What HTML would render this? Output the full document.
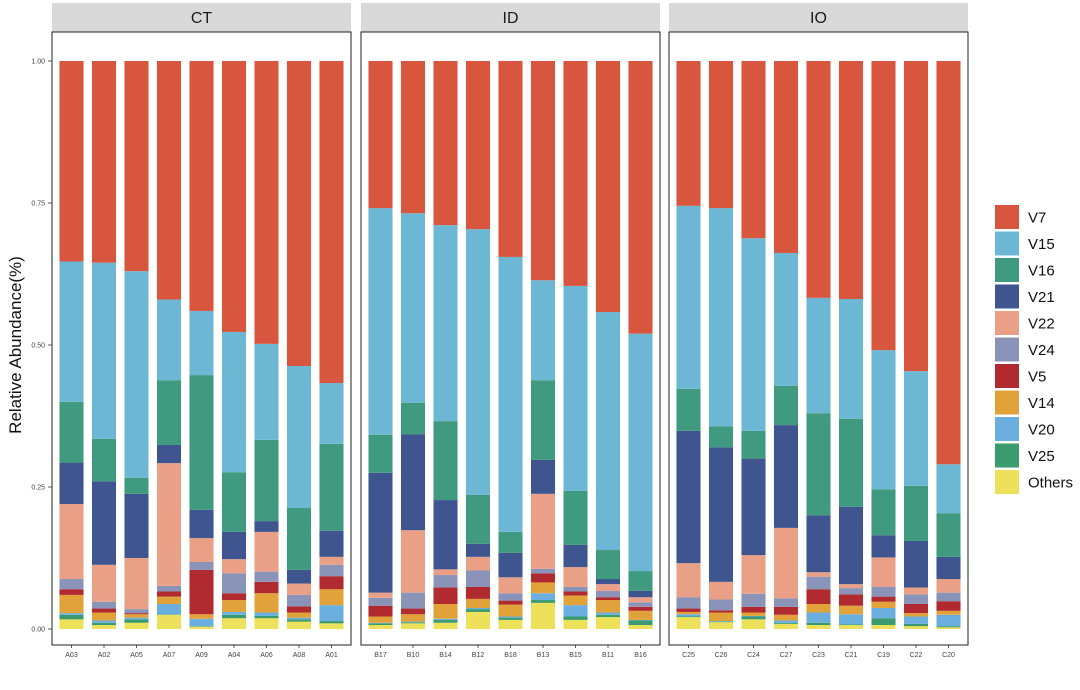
<!DOCTYPE html>
<html><head><meta charset="utf-8"><style>
body{margin:0;background:#fff;font-family:"Liberation Sans",sans-serif}
</style></head><body>
<svg id="chart" width="1080" height="685" xmlns="http://www.w3.org/2000/svg" font-family="Liberation Sans, sans-serif"></svg>
<script>
const panels=["CT","ID","IO"];
const samples=[["A03","A02","A05","A07","A09","A04","A06","A08","A01"],["B17","B10","B14","B12","B18","B13","B15","B11","B16"],["C25","C26","C24","C27","C23","C21","C19","C22","C20"]];
const seriesNames=["Others","V25","V20","V14","V5","V24","V22","V21","V16","V15","V7"];
const colors=["#EDE05A","#3C9B6E","#6AAFE0","#E2A23A","#B02A30","#8A93B8","#E9A087","#3F5590","#3F9A7F","#6CB8D4","#D9563E"];
const Others=[.017,.007,.011,.025,.004,.019,.019,.013,.010,.007,.010,.011,.030,.016,.046,.016,.021,.007,.021,.012,.017,.009,.007,.007,.007,.005,.003];
const V25=[.008,.004,.006,.001,.001,.006,.004,.004,.004,.003,.002,.005,.005,.004,.005,.006,.004,.008,.001,.001,.005,.002,.004,.001,.012,.004,.002];
const V20=[.003,.004,.003,.018,.013,.005,.006,.003,.028,.001,.001,.002,.002,.002,.012,.020,.004,.001,.004,.001,.001,.004,.018,.018,.018,.013,.020];
const V14=[.032,.014,.006,.013,.008,.021,.034,.009,.028,.011,.013,.026,.016,.021,.019,.017,.022,.016,.004,.015,.006,.010,.015,.015,.011,.006,.007];
const V5=[.010,.007,.002,.009,.078,.012,.020,.011,.023,.019,.010,.029,.021,.007,.016,.007,.005,.007,.006,.004,.010,.014,.026,.020,.009,.016,.017];
const V24=[.018,.012,.007,.010,.014,.035,.018,.020,.020,.014,.028,.022,.029,.013,.008,.008,.011,.008,.020,.019,.023,.015,.022,.011,.017,.017,.015];
const V22=[.132,.065,.090,.216,.042,.025,.070,.020,.014,.009,.110,.010,.024,.028,.132,.035,.012,.009,.060,.031,.068,.124,.008,.007,.052,.012,.024];
const V21=[.073,.147,.113,.032,.050,.048,.019,.024,.046,.211,.169,.122,.023,.043,.060,.039,.009,.011,.233,.237,.170,.181,.100,.136,.039,.082,.039];
const V16=[.107,.075,.028,.114,.237,.105,.143,.109,.153,.067,.055,.139,.086,.037,.140,.095,.051,.035,.074,.037,.049,.069,.180,.155,.081,.097,.077];
const V15=[.247,.310,.364,.142,.113,.247,.169,.250,.107,.399,.334,.345,.468,.484,.176,.361,.419,.418,.322,.384,.339,.234,.203,.211,.245,.202,.086];
const V7=[.353,.355,.370,.420,.440,.477,.498,.537,.567,.259,.268,.289,.296,.345,.386,.396,.442,.480,.255,.259,.312,.338,.417,.419,.509,.546,.710];
const seriesData=[Others,V25,V20,V14,V5,V24,V22,V21,V16,V15,V7];
const yTicks=[0,0.25,0.5,0.75,1];
const yTickLabels=["0.00","0.25","0.50","0.75","1.00"];

const svg=document.getElementById('chart');
const NS="http://www.w3.org/2000/svg";
function mk(t,a,p){const e=document.createElementNS(NS,t);for(const k in a)e.setAttribute(k,a[k]);(p||svg).appendChild(e);return e;}
const panelX=[52,361,669], panelW=299, plotTop=32, plotBottom=645;
const yScale=v=>629-v*568;
const xUnit=panelW/9.2;
const xScale=(p,i)=>panelX[p]+(0.6+i)*xUnit;
const barW=xUnit*0.74;

panels.forEach((pn,p)=>{
  const g=mk('g',{});
  
  
  const strip=mk('rect',{x:panelX[p],y:3,width:panelW,height:29,fill:'#D9D9D9'},g);
  
  
  const st=mk('text',{x:panelX[p]+panelW/2,y:23,'text-anchor':'middle','font-size':16,fill:'#1a1a1a'},g);
  st.textContent=pn;
  
  
  samples[p].forEach((s,i)=>{
    const idx=p*9+i;let cum=0;
    seriesData.forEach((arr,k)=>{
      const v=arr[idx];
      const r=mk('rect',{x:xScale(p,i)-barW/2,y:yScale(cum+v),width:barW,height:Math.max(0,yScale(cum)-yScale(cum+v)),fill:colors[k]},g);
      
      
      cum+=v;
    });
    mk('line',{x1:xScale(p,i),x2:xScale(p,i),y1:plotBottom,y2:plotBottom+3,stroke:'#333','stroke-width':0.8},g);
    const t=mk('text',{x:xScale(p,i),y:657,'text-anchor':'middle','font-size':7,fill:'#444'},g);
    t.textContent=s;
    
    
  });
  const b=mk('rect',{x:panelX[p],y:plotTop,width:panelW,height:plotBottom-plotTop,fill:'none',stroke:'#222','stroke-width':1},g);
  
  
});
yTicks.forEach((v,i)=>{
  mk('line',{x1:48,x2:52,y1:yScale(v),y2:yScale(v),stroke:'#333','stroke-width':0.8});
  const t=mk('text',{x:45,y:yScale(v)+2.5,'text-anchor':'end','font-size':7,fill:'#444'});
  t.textContent=yTickLabels[i];
  
  
});
const yt=mk('text',{x:0,y:0,transform:'translate(21,345) rotate(-90)','text-anchor':'middle','font-size':17,fill:'#111'});
yt.textContent='Relative Abundance(%)';


const legendOrder=["V7","V15","V16","V21","V22","V24","V5","V14","V20","V25","Others"];
legendOrder.forEach((n,i)=>{
  const k=seriesNames.indexOf(n);
  const ly=205+i*26.5;
  const g=mk('g',{});
  
  
  mk('rect',{x:995,y:ly,width:24,height:24,fill:colors[k]},g);
  const t=mk('text',{x:1028,y:ly+17.5,'font-size':15,fill:'#111'},g);
  t.textContent=n;
});
</script>
</body></html>
